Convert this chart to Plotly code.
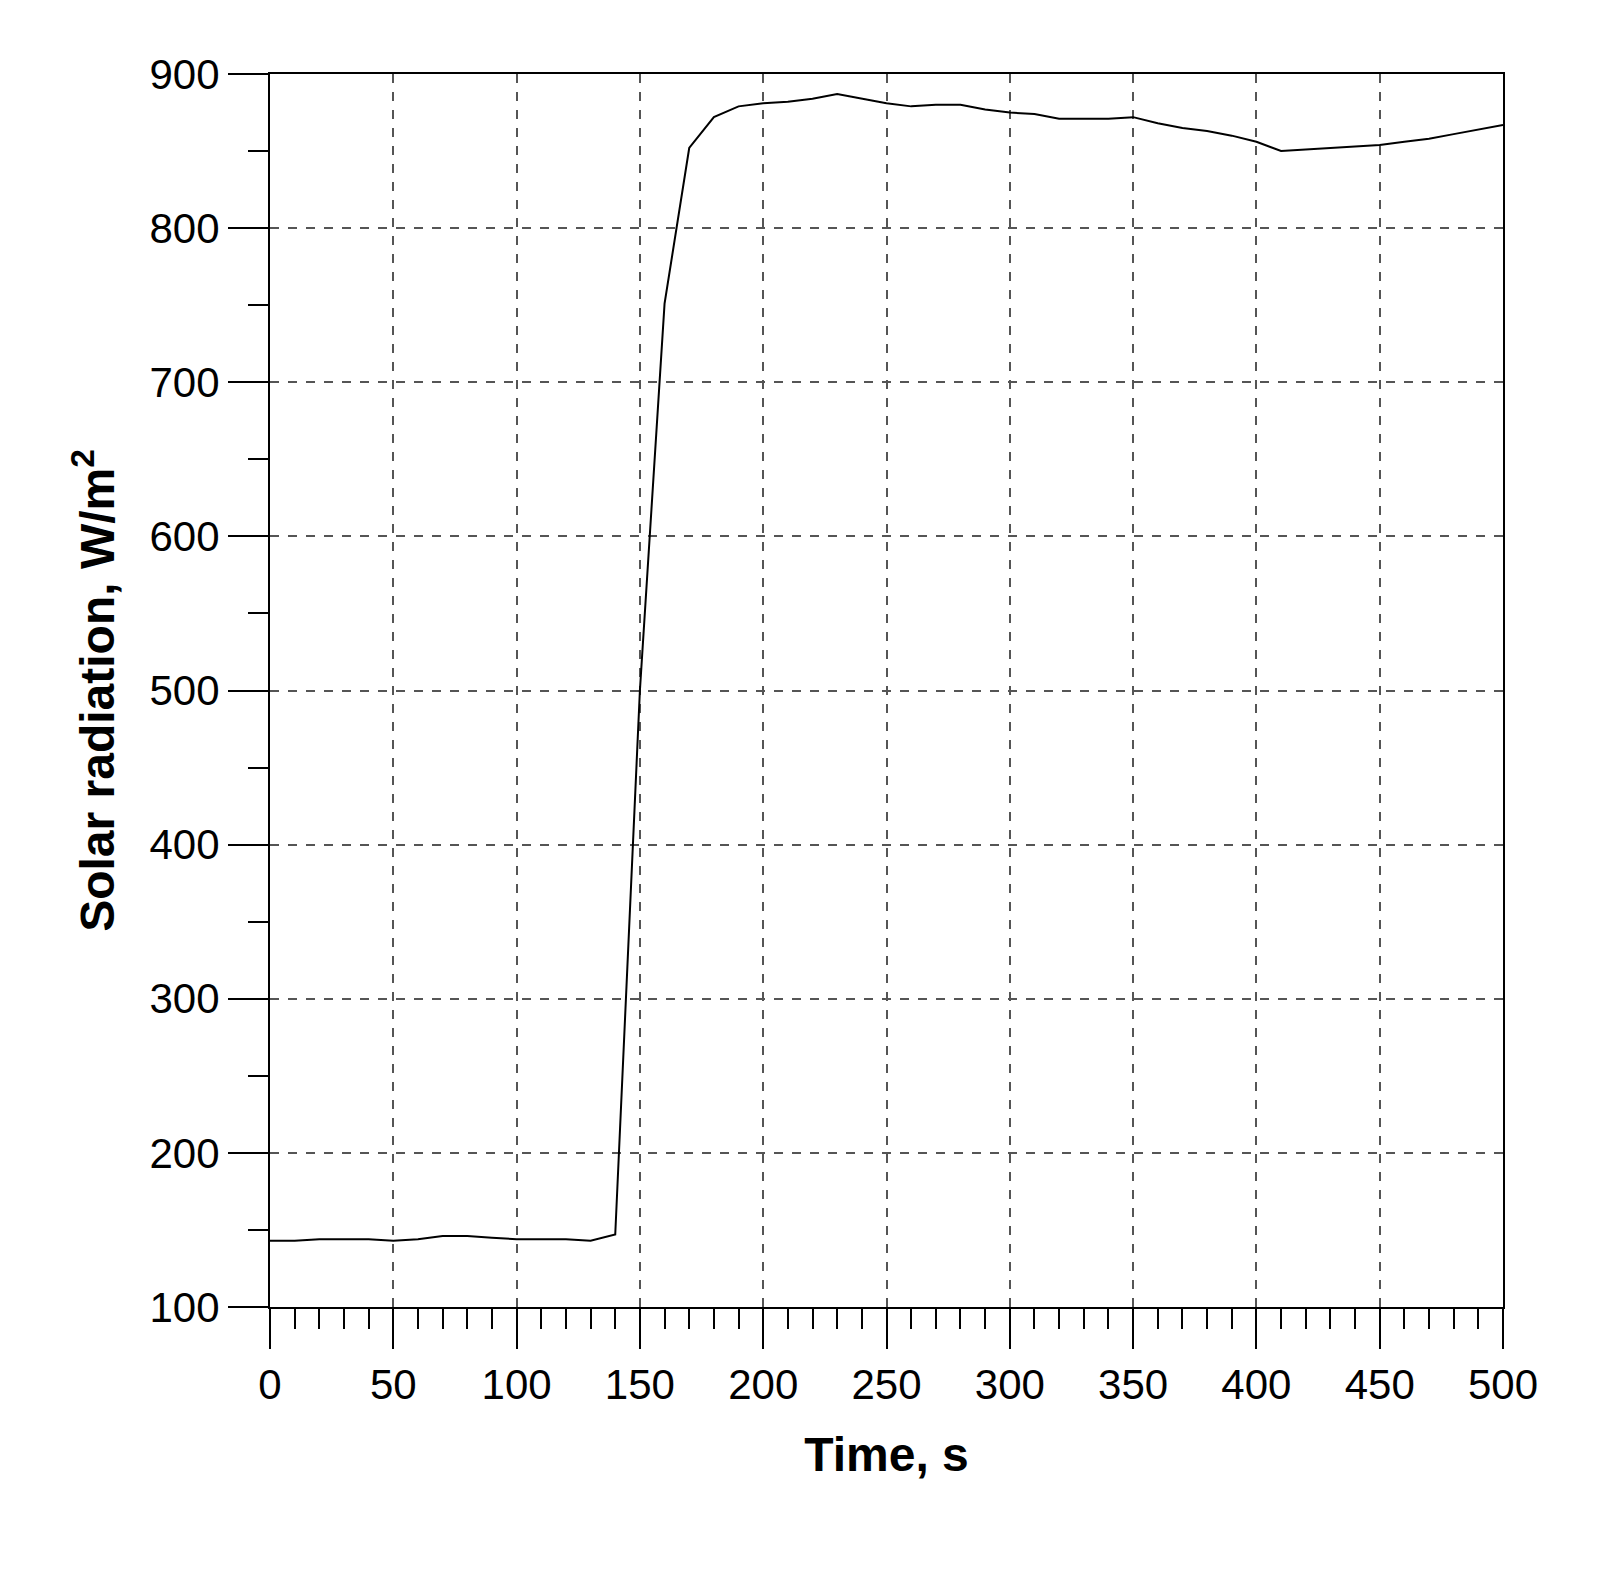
import plotly.graph_objects as go

time_s = [0, 10, 20, 30, 40, 50, 60, 70, 80, 90, 100, 110, 120, 130, 140, 150, 160, 170,
          180, 190, 200, 210, 220, 230, 240, 250, 260, 270, 280, 290, 300, 310, 320, 330,
          340, 350, 360, 370, 380, 390, 400, 410, 420, 430, 440, 450, 460, 470, 480, 490, 500]
radiation = [143, 143, 144, 144, 144, 143, 144, 146, 146, 145, 144, 144, 144, 143, 147, 500, 751, 852,
             872, 879, 881, 882, 884, 887, 884, 881, 879, 880, 880, 877, 875, 874, 871, 871,
             871, 872, 868, 865, 863, 860, 856, 850, 851, 852, 853, 854, 856, 858, 861, 864, 867]

fig = go.Figure(go.Scatter(x=time_s, y=radiation, mode="lines",
                           line=dict(color="black", width=2)))

font = dict(family="Liberation Sans, Arial", size=42, color="black")
title_font = dict(family="Liberation Sans, Arial", size=48, color="black")
grid = dict(showgrid=True, gridcolor="#555", griddash="dash", gridwidth=1.5,
            showline=True, linecolor="black", linewidth=2, mirror=True,
            ticks="outside", ticklen=40, tickwidth=2, tickcolor="black",
            zeroline=False, tickfont=font)

fig.update_xaxes(range=[0, 500], dtick=50, tick0=0,
                 minor=dict(dtick=10, ticks="outside", ticklen=20, tickwidth=2,
                            tickcolor="black", showgrid=False),
                 title=dict(text="<b>Time, s</b>", font=title_font, standoff=30),
                 **grid)
fig.update_yaxes(range=[100, 900], dtick=100, tick0=100,
                 minor=dict(dtick=50, ticks="outside", ticklen=20, tickwidth=2,
                            tickcolor="black", showgrid=False),
                 title=dict(text="<b>Solar radiation, W/m<sup>2</sup></b>",
                            font=title_font, standoff=20),
                 **grid)

fig.update_layout(width=1620, height=1581, showlegend=False,
                  plot_bgcolor="white", paper_bgcolor="white",
                  margin=dict(l=262, r=125, t=66, b=282))
fig.write_html("out.html")
